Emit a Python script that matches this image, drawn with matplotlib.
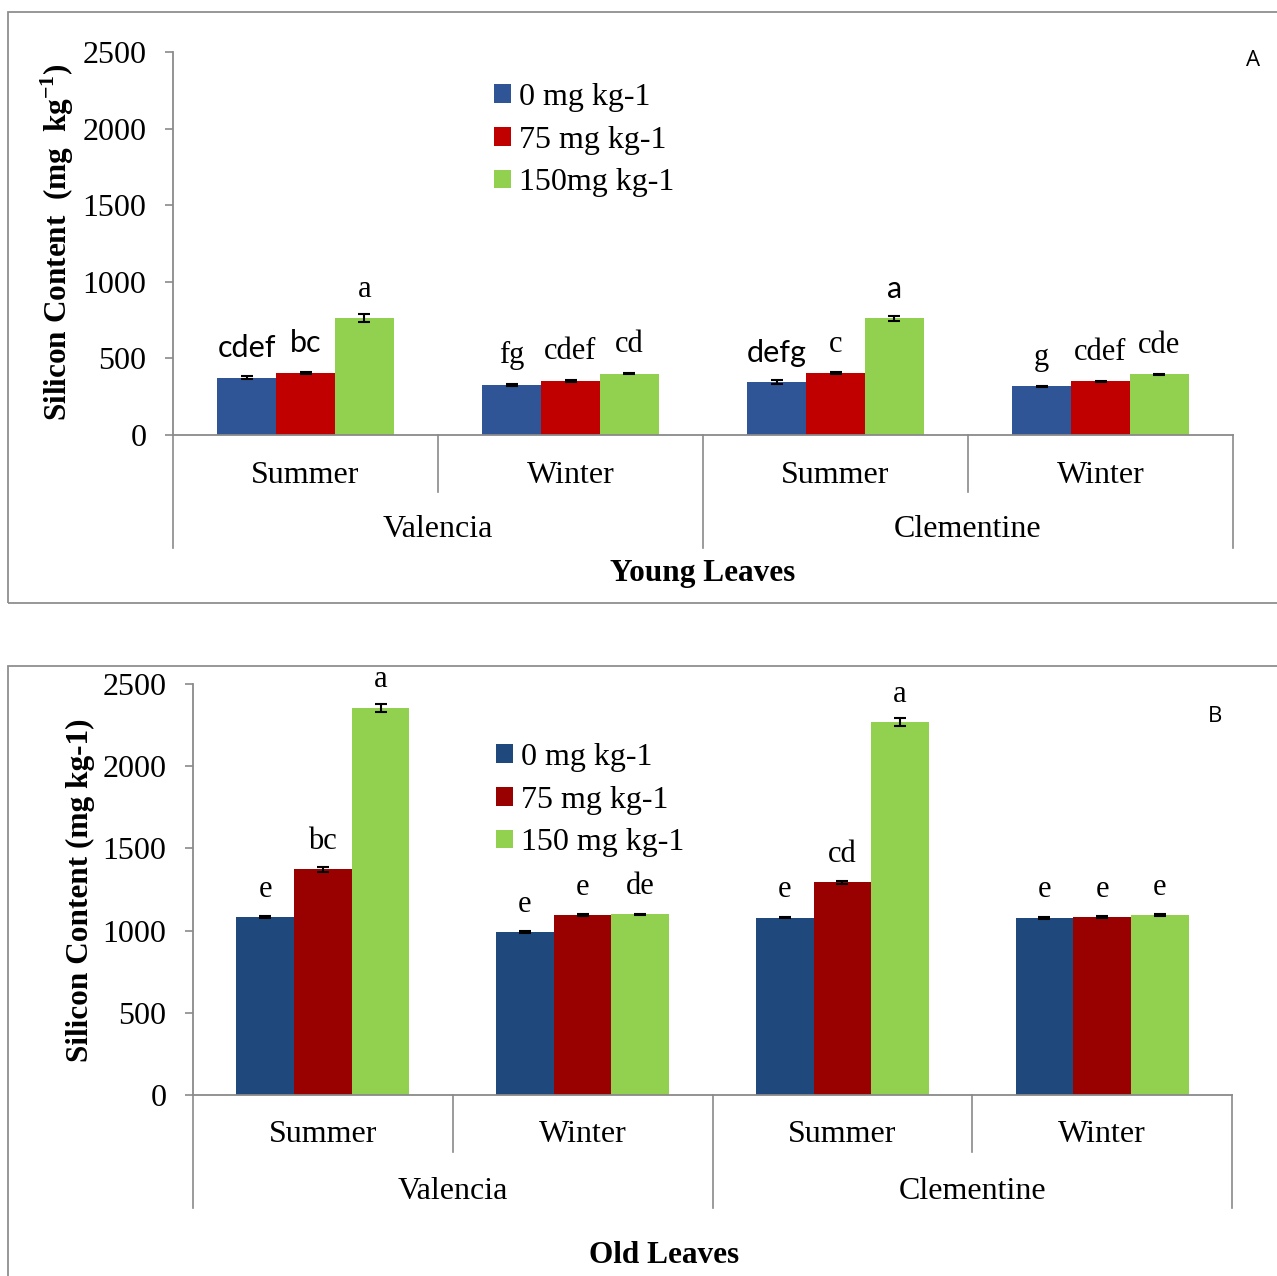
import numpy as np
import matplotlib
matplotlib.use("Agg")
import matplotlib.pyplot as plt
from matplotlib.patches import Rectangle, Patch
from matplotlib.transforms import blended_transform_factory

plt.rcParams['font.family'] = ['Liberation Serif', 'DejaVu Serif']
plt.rcParams['mathtext.fontset'] = 'custom'
plt.rcParams['mathtext.rm'] = 'Liberation Serif'
plt.rcParams['mathtext.bf'] = 'Liberation Serif:bold'

# ---------------- data ----------------
seasons = ['Summer', 'Winter', 'Summer', 'Winter']
cultivars = ['Valencia', 'Clementine']

young_legend = ['0 mg kg-1', '75 mg kg-1', '150mg kg-1']
old_legend = ['0 mg kg-1', '75 mg kg-1', '150 mg kg-1']

# young leaves, one row per dose (0, 75, 150), columns = V-Summer, V-Winter, C-Summer, C-Winter
young_mean = [[375, 327, 344, 318],
              [407, 353, 403, 351],
              [762, 401, 762, 396]]
young_err = [[10, 4, 13, 4],
             [6, 4, 7, 3],
             [26, 4, 17, 5]]
young_letters = [['cdef', 'fg', 'defg', 'g'],
                 ['bc', 'cdef', 'c', 'cdef'],
                 ['a', 'cd', 'a', 'cde']]

# old leaves
old_mean = [[1080, 992, 1079, 1079],
            [1373, 1094, 1294, 1081],
            [2356, 1099, 2267, 1093]]
old_err = [[6, 4, 5, 6],
           [16, 5, 8, 5],
           [25, 5, 25, 5]]
old_letters = [['e', 'e', 'e', 'e'],
               ['bc', 'e', 'cd', 'e'],
               ['a', 'de', 'a', 'e']]

yticks = [0, 500, 1000, 1500, 2000, 2500]

W, H = 1277, 1276
FS = 23
fig = plt.figure(figsize=(W / 100, H / 100), dpi=100)

# outer frames around each panel
frame_kw = dict(fill=False, edgecolor='#8f8f8f', linewidth=1.3, transform=None)
fig.patches.append(Rectangle((8, H - 603), 1300, 591, **frame_kw))
fig.patches.append(Rectangle((8, -30), 1300, H - 666 + 30, **frame_kw))

axis_gray = '#8a8a8a'


def px_axes(left, right, top, bottom):
    return fig.add_axes([left / W, 1 - bottom / H, (right - left) / W, (bottom - top) / H])


def draw_panel(ax, means, errs, letters, colors, sans_labels,
               letter_pad, sep_in, sep_out, y_season, y_cultivar):
    x = np.arange(len(seasons))
    width = 0.222
    for i in range(3):
        ax.bar(x + (i - 1) * width, means[i], width, color=colors[i], linewidth=0)
        ax.errorbar(x + (i - 1) * width, means[i], yerr=errs[i], fmt='none',
                    ecolor='black', elinewidth=1.5, capsize=4.5, capthick=1.5)
        for j in range(len(x)):
            fam = ['Lato', 'DejaVu Sans'] if (i, j) in sans_labels else ['Liberation Serif']
            ax.annotate(letters[i][j], (x[j] + (i - 1) * width, means[i][j]),
                        xytext=(0, letter_pad), textcoords='offset points',
                        ha='center', va='center', fontsize=FS - 1, family=fam)

    ax.set_xlim(-0.5, 3.5)
    ax.set_ylim(0, 2500)
    ax.set_yticks(yticks)
    ax.set_yticklabels([str(t) for t in yticks], fontsize=FS)
    ax.tick_params(axis='y', length=6, width=1.2, color=axis_gray, pad=13)
    ax.set_xticks([])
    for s in ['top', 'right']:
        ax.spines[s].set_visible(False)
    for s in ['left', 'bottom']:
        ax.spines[s].set_color(axis_gray)
        ax.spines[s].set_linewidth(1.3)

    # two-level category axis
    tr = blended_transform_factory(ax.transData, ax.transAxes)
    for xs in [0.5, 2.5]:
        ax.plot([xs, xs], [0, sep_in], transform=tr, color=axis_gray, lw=1.2, clip_on=False)
    for xs in [-0.5, 1.5, 3.5]:
        ax.plot([xs, xs], [0, sep_out], transform=tr, color=axis_gray, lw=1.2, clip_on=False)
    for j, s in enumerate(seasons):
        ax.text(j, y_season, s, transform=tr, ha='center', va='center', fontsize=FS)
    for k, c in enumerate(cultivars):
        ax.text(2 * k + 0.5, y_cultivar, c, transform=tr, ha='center', va='center', fontsize=FS)

    return [Patch(facecolor=colors[i], edgecolor='none') for i in range(3)]


legend_kw = dict(loc='upper left', frameon=False, fontsize=FS, handlelength=0.52,
                 handleheight=0.52, handletextpad=0.25, labelspacing=0.43,
                 borderpad=0, borderaxespad=0)

# ---------------- panel A: young leaves ----------------
axA = px_axes(173, 1233, 52, 435)
young_colors = ['#2F5597', '#C00000', '#92D050']
hA = draw_panel(axA, young_mean, young_err, young_letters, young_colors,
                {(0, 0), (1, 0), (0, 2), (2, 2)}, 21,
                -0.149, -0.295, -0.105, -0.248)
axA.text(0.5, -0.362, 'Young Leaves', transform=axA.transAxes, ha='center', va='center',
         fontsize=FS - 0.5, fontweight='bold')
fig.legend(hA, young_legend, bbox_to_anchor=(494 / W, 1 - 83 / H), **legend_kw)
fig.text(57 / W, 1 - 242 / H, r'Silicon Content  (mg  kg$^{\mathbf{-1}}$)', rotation=90,
         ha='center', va='center', fontsize=FS - 0.5, fontweight='bold')
fig.text(1253 / W, 1 - 60 / H, 'A', ha='center', va='center', fontsize=16,
         family=['Open Sans', 'DejaVu Sans'])

# ---------------- panel B: old leaves ----------------
axB = px_axes(193, 1232, 684, 1095)
old_colors = ['#1F497D', '#990000', '#92D050']
hB = draw_panel(axB, old_mean, old_err, old_letters, old_colors,
                set(), 20,
                -0.139, -0.275, -0.0955, -0.236)
axB.text((664 - 193) / (1232 - 193), -0.39, 'Old Leaves', transform=axB.transAxes,
         ha='center', va='center', fontsize=FS - 0.5, fontweight='bold')
fig.legend(hB, old_legend, bbox_to_anchor=(496 / W, 1 - 743 / H), **legend_kw)
fig.text(80 / W, 1 - 890 / H, 'Silicon Content (mg kg-1)', rotation=90,
         ha='center', va='center', fontsize=FS - 0.5, fontweight='bold')
fig.text(1215 / W, 1 - 716 / H, 'B', ha='center', va='center', fontsize=16,
         family=['Open Sans', 'DejaVu Sans'])

fig.savefig('out.png', dpi=100, facecolor='white')
